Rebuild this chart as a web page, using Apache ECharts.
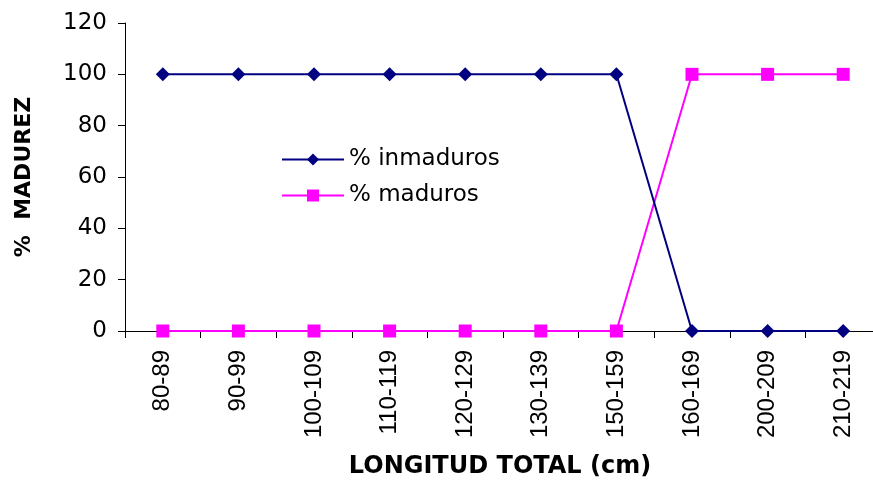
<!DOCTYPE html>
<html>
<head>
<meta charset="utf-8">
<script src="https://cdn.jsdelivr.net/npm/echarts@6/dist/echarts.min.js"></script>
<style>
  html, body { margin: 0; padding: 0; background: #fff; }
  #chart { width: 873px; height: 484px; }
</style>
</head>
<body>
<div id="chart"></div>
<script>
// Length classes (cm)
const categories = ['80-89', '90-99', '100-109', '110-119', '120-129', '130-139', '150-159', '160-169', '200-209', '210-219'];
// Percentage of immature / mature fish per class
const inmaduros = [100, 100, 100, 100, 100, 100, 100, 0, 0, 0];
const maduros = [0, 0, 0, 0, 0, 0, 0, 100, 100, 100];
const yTicks = { min: 0, max: 120, interval: 20 };

const FONT = '"DejaVu Sans", sans-serif';
const NARROW = '"Liberation Sans", Arial, sans-serif';
const chart = echarts.init(document.getElementById('chart'));

chart.setOption({
  backgroundColor: '#ffffff',
  animation: false,
  grid: { left: 125, width: 756, top: 23, height: 308, outerBoundsMode: 'none', containLabel: false },
  legend: {
    orient: 'vertical',
    left: 276,
    top: 143,
    itemGap: 13,
    itemWidth: 62,
    itemHeight: 15,
    textStyle: { fontFamily: FONT, fontSize: 23, color: '#000' },
    data: ['% inmaduros', '% maduros']
  },
  xAxis: {
    type: 'category',
    data: categories,
    boundaryGap: true,
    name: 'LONGITUD TOTAL (cm)',
    nameLocation: 'middle',
    nameGap: 124,
    nameTextStyle: { fontFamily: FONT, fontSize: 24, fontWeight: 'bold', color: '#000', padding: [0, 0, 0, -6] },
    axisLine: { lineStyle: { color: '#000', width: 1 } },
    axisTick: { show: true, alignWithLabel: false, length: 7, lineStyle: { color: '#000' } },
    axisLabel: { rotate: 90, margin: 19, fontFamily: NARROW, fontSize: 24, color: '#000', interval: 0 },
    splitLine: { show: false }
  },
  yAxis: {
    type: 'value',
    min: yTicks.min,
    max: yTicks.max,
    interval: yTicks.interval,
    name: '%  MADUREZ',
    nameLocation: 'middle',
    nameGap: 90,
    nameRotate: 90,
    nameTextStyle: { fontFamily: FONT, fontSize: 22, fontWeight: 'bold', color: '#000' },
    axisLine: { show: true, lineStyle: { color: '#000', width: 1 } },
    axisTick: { show: true, length: 7, lineStyle: { color: '#000' } },
    axisLabel: { margin: 18, fontFamily: FONT, fontSize: 23, color: '#000' },
    splitLine: { show: false }
  },
  series: [
    {
      name: '% inmaduros',
      type: 'line',
      data: inmaduros,
      symbol: 'diamond',
      symbolSize: 14,
      color: '#000080',
      lineStyle: { color: '#000080', width: 2 },
      itemStyle: { color: '#000080' },
      z: 3
    },
    {
      name: '% maduros',
      type: 'line',
      data: maduros,
      symbol: 'rect',
      symbolSize: 13,
      color: '#ff00ff',
      lineStyle: { color: '#ff00ff', width: 2 },
      itemStyle: { color: '#ff00ff' },
      z: 2
    }
  ]
});
</script>
</body>
</html>
